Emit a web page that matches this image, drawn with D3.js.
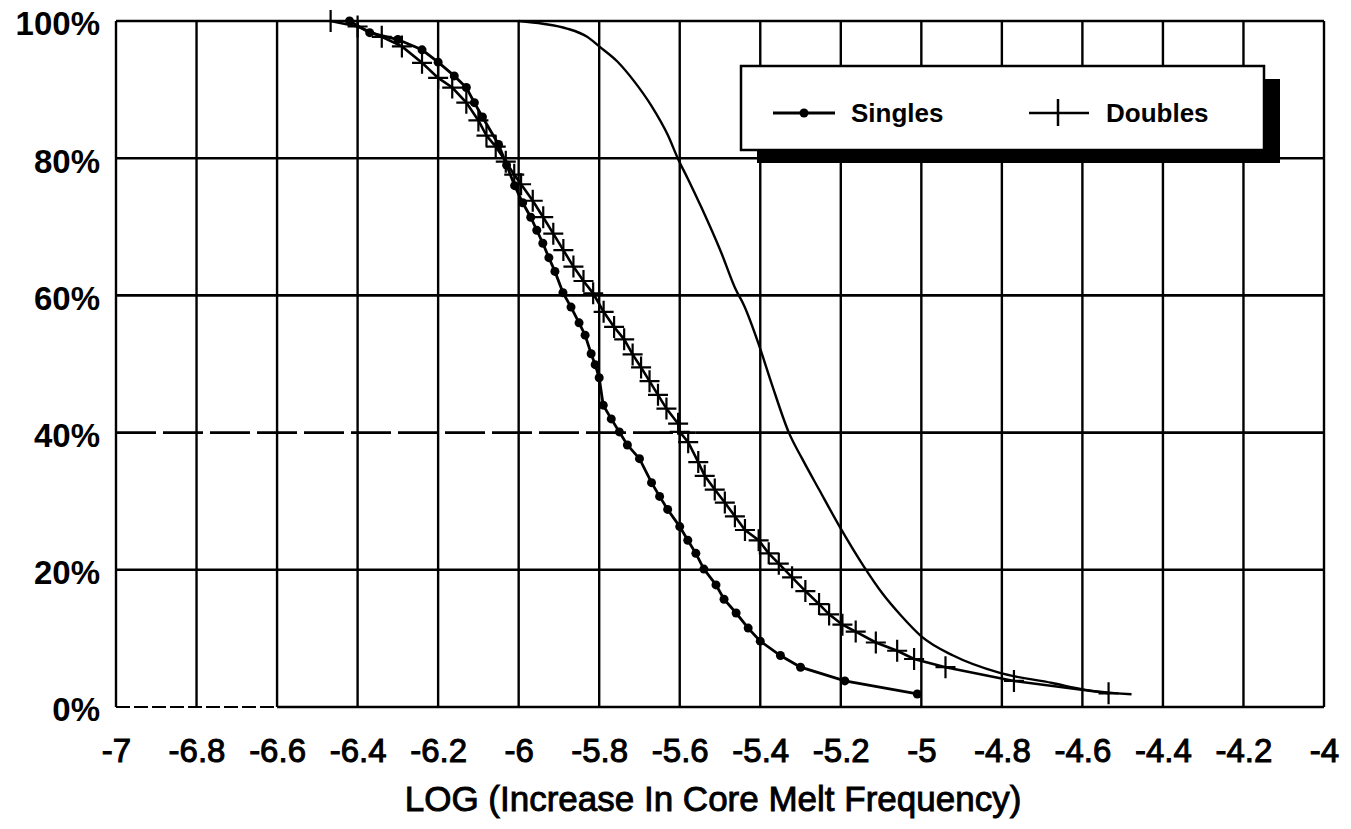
<!DOCTYPE html>
<html>
<head>
<meta charset="utf-8">
<script src="https://cdn.jsdelivr.net/npm/d3@7"></script>
<style>
  html, body { margin: 0; padding: 0; background: #fff; }
  svg { display: block; }
  text { font-family: "Liberation Sans", Arial, Helvetica, sans-serif; fill: #000; }
</style>
</head>
<body>
<svg id="chart" width="1351" height="829"></svg>
<script>
// ---------------- data ----------------
const xTicks = [-7, -6.8, -6.6, -6.4, -6.2, -6, -5.8, -5.6, -5.4, -5.2, -5, -4.8, -4.6, -4.4, -4.2, -4];
const xTickLabels = ["-7", "-6.8", "-6.6", "-6.4", "-6.2", "-6", "-5.8", "-5.6", "-5.4", "-5.2", "-5", "-4.8", "-4.6", "-4.4", "-4.2", "-4"];
const yTicks = [0, 20, 40, 60, 80, 100];
const yTickLabels = ["0%", "20%", "40%", "60%", "80%", "100%"];
const xTitle = "LOG (Increase In Core Melt Frequency)";
const seriesNames = ["Singles", "Doubles"];

const singlesX = [-6.42, -6.37, -6.30, -6.24, -6.20, -6.16, -6.13, -6.11, -6.09, -6.05, -6.03, -6.01, -5.99, -5.97, -5.955, -5.94, -5.925, -5.91, -5.89, -5.87, -5.85, -5.835, -5.82, -5.81, -5.80, -5.79, -5.77, -5.75, -5.73, -5.70, -5.67, -5.65, -5.63, -5.60, -5.58, -5.56, -5.54, -5.51, -5.49, -5.46, -5.43, -5.40, -5.35, -5.30, -5.19, -5.01];
const singlesY = [100, 98.3, 97.3, 95.8, 94.0, 92.0, 90.3, 88.1, 86.0, 82.0, 79.0, 76.0, 73.5, 71.4, 69.5, 67.6, 65.5, 63.5, 60.4, 58.3, 56.0, 54.2, 51.5, 49.9, 48.0, 44.0, 42.0, 40.1, 38.2, 36.2, 32.7, 30.7, 28.8, 26.3, 24.3, 22.4, 20.1, 17.8, 15.7, 13.7, 11.5, 9.6, 7.5, 5.8, 3.8, 1.9];

const doublesX = [-6.467, -6.40, -6.34, -6.29, -6.24, -6.20, -6.165, -6.13, -6.10, -6.08, -6.057, -6.032, -6.011, -5.994, -5.965, -5.939, -5.914, -5.889, -5.864, -5.839, -5.815, -5.789, -5.763, -5.738, -5.717, -5.696, -5.675, -5.654, -5.633, -5.604, -5.60, -5.579, -5.554, -5.538, -5.513, -5.488, -5.463, -5.438, -5.404, -5.379, -5.354, -5.321, -5.288, -5.254, -5.229, -5.196, -5.163, -5.113, -5.06, -5.018, -4.94, -4.77, -4.535];
const doublesY = [100, 99.2, 97.7, 96.3, 93.9, 91.7, 90.3, 88.1, 85.5, 83.3, 81.7, 79.5, 77.6, 76.2, 73.8, 71.4, 69.0, 66.6, 64.2, 62.1, 60.3, 57.6, 55.4, 53.6, 51.4, 49.5, 47.5, 45.5, 43.5, 41.3, 40.1, 38.6, 35.7, 33.7, 31.7, 29.8, 27.8, 25.8, 24.3, 22.4, 20.9, 18.9, 16.9, 15.0, 13.5, 12.0, 11.0, 9.4, 8.2, 7.0, 5.8, 3.8, 2.0];

const thirdX = [-6.00, -5.94, -5.88, -5.83, -5.80, -5.755, -5.713, -5.671, -5.629, -5.605, -5.579, -5.546, -5.496, -5.462, -5.44, -5.404, -5.371, -5.329, -5.296, -5.254, -5.20, -5.143, -5.096, -5.05, -5.00, -4.921, -4.807, -4.675, -4.592, -4.478];
const thirdY = [100, 99.6, 98.9, 97.7, 96.3, 94.1, 91.2, 87.7, 83.3, 80.0, 76.9, 72.8, 66.1, 61.0, 58.5, 52.9, 47.0, 40.0, 36.2, 31.7, 26.0, 20.5, 16.5, 13.3, 10.3, 7.5, 5.0, 3.5, 2.5, 1.85];

// ---------------- chart ----------------
const svg = d3.select("#chart");
const x = d3.scaleLinear().domain([-7, -4]).range([116, 1324]);
const y = d3.scaleLinear().domain([0, 100]).range([707, 21]);

const g = svg.append("g");

// vertical grid lines
g.selectAll("line.vg").data(xTicks).join("line")
  .attr("x1", d => x(d)).attr("x2", d => x(d))
  .attr("y1", y(0)).attr("y2", y(100))
  .attr("stroke", "#000").attr("stroke-width", 2.4);

// horizontal grid lines (40% line dashed on its left part, like the scan)
yTicks.forEach(t => {
  if (t === 40) {
    g.append("line").attr("x1", x(-7)).attr("x2", x(-5.56)).attr("y1", y(t)).attr("y2", y(t))
      .attr("stroke", "#000").attr("stroke-width", 2.6).attr("stroke-dasharray", "40,7");
    g.append("line").attr("x1", x(-5.56)).attr("x2", x(-4)).attr("y1", y(t)).attr("y2", y(t))
      .attr("stroke", "#000").attr("stroke-width", 2.6);
  } else if (t === 0) {
    g.append("line").attr("x1", x(-7)).attr("x2", x(-6.6)).attr("y1", y(t)).attr("y2", y(t))
      .attr("stroke", "#000").attr("stroke-width", 2.2).attr("stroke-dasharray", "14,4");
    g.append("line").attr("x1", x(-6.6)).attr("x2", x(-4)).attr("y1", y(t)).attr("y2", y(t))
      .attr("stroke", "#000").attr("stroke-width", 2.6);
  } else {
    g.append("line").attr("x1", x(-7)).attr("x2", x(-4)).attr("y1", y(t)).attr("y2", y(t))
      .attr("stroke", "#000").attr("stroke-width", 2.6);
  }
});

// axes labels via d3 axes (no domain / tick lines)
const xAxis = d3.axisBottom(x).tickValues(xTicks).tickFormat((d, i) => xTickLabels[i]).tickSize(0).tickPadding(0);
const xa = svg.append("g").attr("transform", `translate(0, ${y(0)})`).call(xAxis);
xa.select(".domain").remove();
xa.selectAll("text")
  .attr("y", 55).attr("dy", null)
  .style("font-size", "33px").style("stroke", "#000").style("stroke-width", "1px");

const yAxis = d3.axisLeft(y).tickValues(yTicks).tickFormat((d, i) => yTickLabels[i]).tickSize(0).tickPadding(0);
const ya = svg.append("g").attr("transform", `translate(100, 0)`).call(yAxis);
ya.select(".domain").remove();
ya.selectAll("text")
  .attr("x", 0).attr("dy", "0.42em")
  .style("font-size", "33px").style("font-weight", "bold");

svg.append("text")
  .attr("x", (x(-7) + x(-4)) / 2 - 7).attr("y", 811)
  .attr("text-anchor", "middle")
  .style("font-size", "35px").style("stroke", "#000").style("stroke-width", "0.9px")
  .text(xTitle);

// third (unmarked) curve
const thirdData = thirdX.map((v, i) => [v, thirdY[i]]);
g.append("path").datum(thirdData)
  .attr("fill", "none").attr("stroke", "#000").attr("stroke-width", 2.4)
  .attr("d", d3.line().x(d => x(d[0])).y(d => y(d[1])).curve(d3.curveMonotoneX));

// doubles
const doublesData = doublesX.map((v, i) => [v, doublesY[i]]);
g.append("path").datum(doublesData)
  .attr("fill", "none").attr("stroke", "#000").attr("stroke-width", 2.6)
  .attr("d", d3.line().x(d => x(d[0])).y(d => y(d[1])));
const plusH = 11, plusW = 10;
g.selectAll("path.plus").data(doublesData).join("path")
  .attr("class", "plus")
  .attr("d", d => {
    const cx = x(d[0]), cy = y(d[1]);
    return `M${cx - plusW},${cy}H${cx + plusW}M${cx},${cy - plusH}V${cy + plusH}`;
  })
  .attr("stroke", "#000").attr("stroke-width", 2.2).attr("fill", "none");

// singles
const singlesData = singlesX.map((v, i) => [v, singlesY[i]]);
g.append("path").datum(singlesData)
  .attr("fill", "none").attr("stroke", "#000").attr("stroke-width", 2.8)
  .attr("d", d3.line().x(d => x(d[0])).y(d => y(d[1])));
g.selectAll("circle.dot").data(singlesData).join("circle")
  .attr("class", "dot")
  .attr("cx", d => x(d[0])).attr("cy", d => y(d[1])).attr("r", 4.5)
  .attr("fill", "#000");

// legend with drop shadow
const lg = svg.append("g");
const lx0 = 741, ly0 = 66, lw = 523, lh = 84;
lg.append("rect").attr("x", lx0 + 16).attr("y", ly0 + 13).attr("width", lw).attr("height", lh).attr("fill", "#000");
lg.append("rect").attr("x", lx0).attr("y", ly0).attr("width", lw).attr("height", lh)
  .attr("fill", "#fff").attr("stroke", "#000").attr("stroke-width", 2.5);
const legY = ly0 + 47;
// singles entry
lg.append("line").attr("x1", lx0 + 32).attr("x2", lx0 + 94).attr("y1", legY).attr("y2", legY)
  .attr("stroke", "#000").attr("stroke-width", 3);
lg.append("circle").attr("cx", lx0 + 63).attr("cy", legY).attr("r", 4.5).attr("fill", "#000");
lg.append("text").attr("x", lx0 + 110).attr("y", legY).attr("dy", "0.36em")
  .style("font-size", "26px").style("font-weight", "bold").text(seriesNames[0]);
// doubles entry
lg.append("line").attr("x1", lx0 + 288).attr("x2", lx0 + 348).attr("y1", legY).attr("y2", legY)
  .attr("stroke", "#000").attr("stroke-width", 2.5);
lg.append("line").attr("x1", lx0 + 317).attr("x2", lx0 + 317).attr("y1", legY - 14).attr("y2", legY + 13)
  .attr("stroke", "#000").attr("stroke-width", 2.5);
lg.append("text").attr("x", lx0 + 365).attr("y", legY).attr("dy", "0.36em")
  .style("font-size", "26px").style("font-weight", "bold").text(seriesNames[1]);
</script>
</body>
</html>
